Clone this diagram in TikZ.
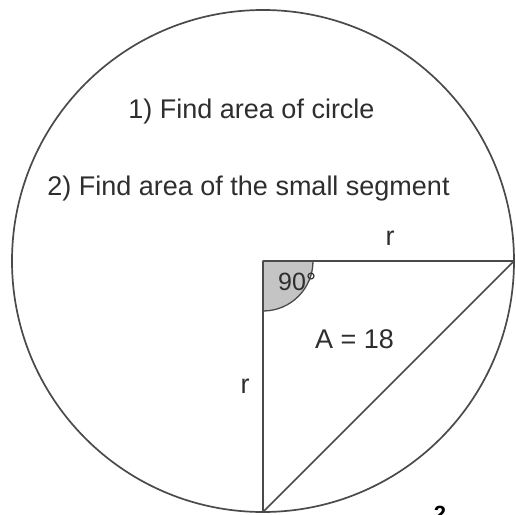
\documentclass[tikz,border=0pt]{standalone}
\usepackage{fontspec}
\setmainfont{Liberation Sans}
\usepackage{xcolor}
\usepackage{tikz}
\usetikzlibrary{positioning}
\definecolor{InkGray}{HTML}{4A4A4A}
\definecolor{TextGray}{HTML}{2E2E2E}
\definecolor{SectorGray}{HTML}{C4C4C4}
\tikzset{
    edgeline/.style={InkGray, line width=1.7pt},
    label/.style={TextGray, inner sep=0pt, font=\fontsize{27}{32}\selectfont},
    anglelabel/.style={TextGray, inner sep=0pt, font=\fontsize{25}{30}\selectfont},
}

\begin{document}
\begin{tikzpicture}[x=1pt, y=-1pt]
        \useasboundingbox (0,0) rectangle (516,514);
        \fill[white] (0,0) rectangle (516,514);

        \coordinate (O) at (263,261);
        \coordinate (R) at (514,261);
        \coordinate (B) at (263,512);

        % right angle sector
        \filldraw[fill=SectorGray, draw=InkGray, line width=1.3pt]
            (O) -- ++(50pt,0) arc[start angle=0, end angle=-90, radius=50pt] -- cycle;

        \draw[edgeline] (O) circle[radius=251pt];
        \draw[edgeline] (O) -- (R);
        \draw[edgeline] (O) -- (B);
        \draw[edgeline] (R) -- (B);

        \node[label, anchor=base] (qone) at (251.5,118) {1) Find area of circle};
        \node[label, anchor=base] (qtwo) at (248.5,195) {2) Find area of the small segment};
        \node[label, anchor=base] (rtop) at (390,245) {r};
        \node[label, anchor=base] (rleft) at (245,393) {r};
        \node[anglelabel, anchor=base west] (ang) at (278,290) {90°};
        \node[label, anchor=base west] (area) at (315,348) {A = 18};
        \node[inner sep=0pt, anchor=north, font=\fontsize{22}{26}\bfseries] (sq) at (440,506) {2};
    \end{tikzpicture}
\end{document}
